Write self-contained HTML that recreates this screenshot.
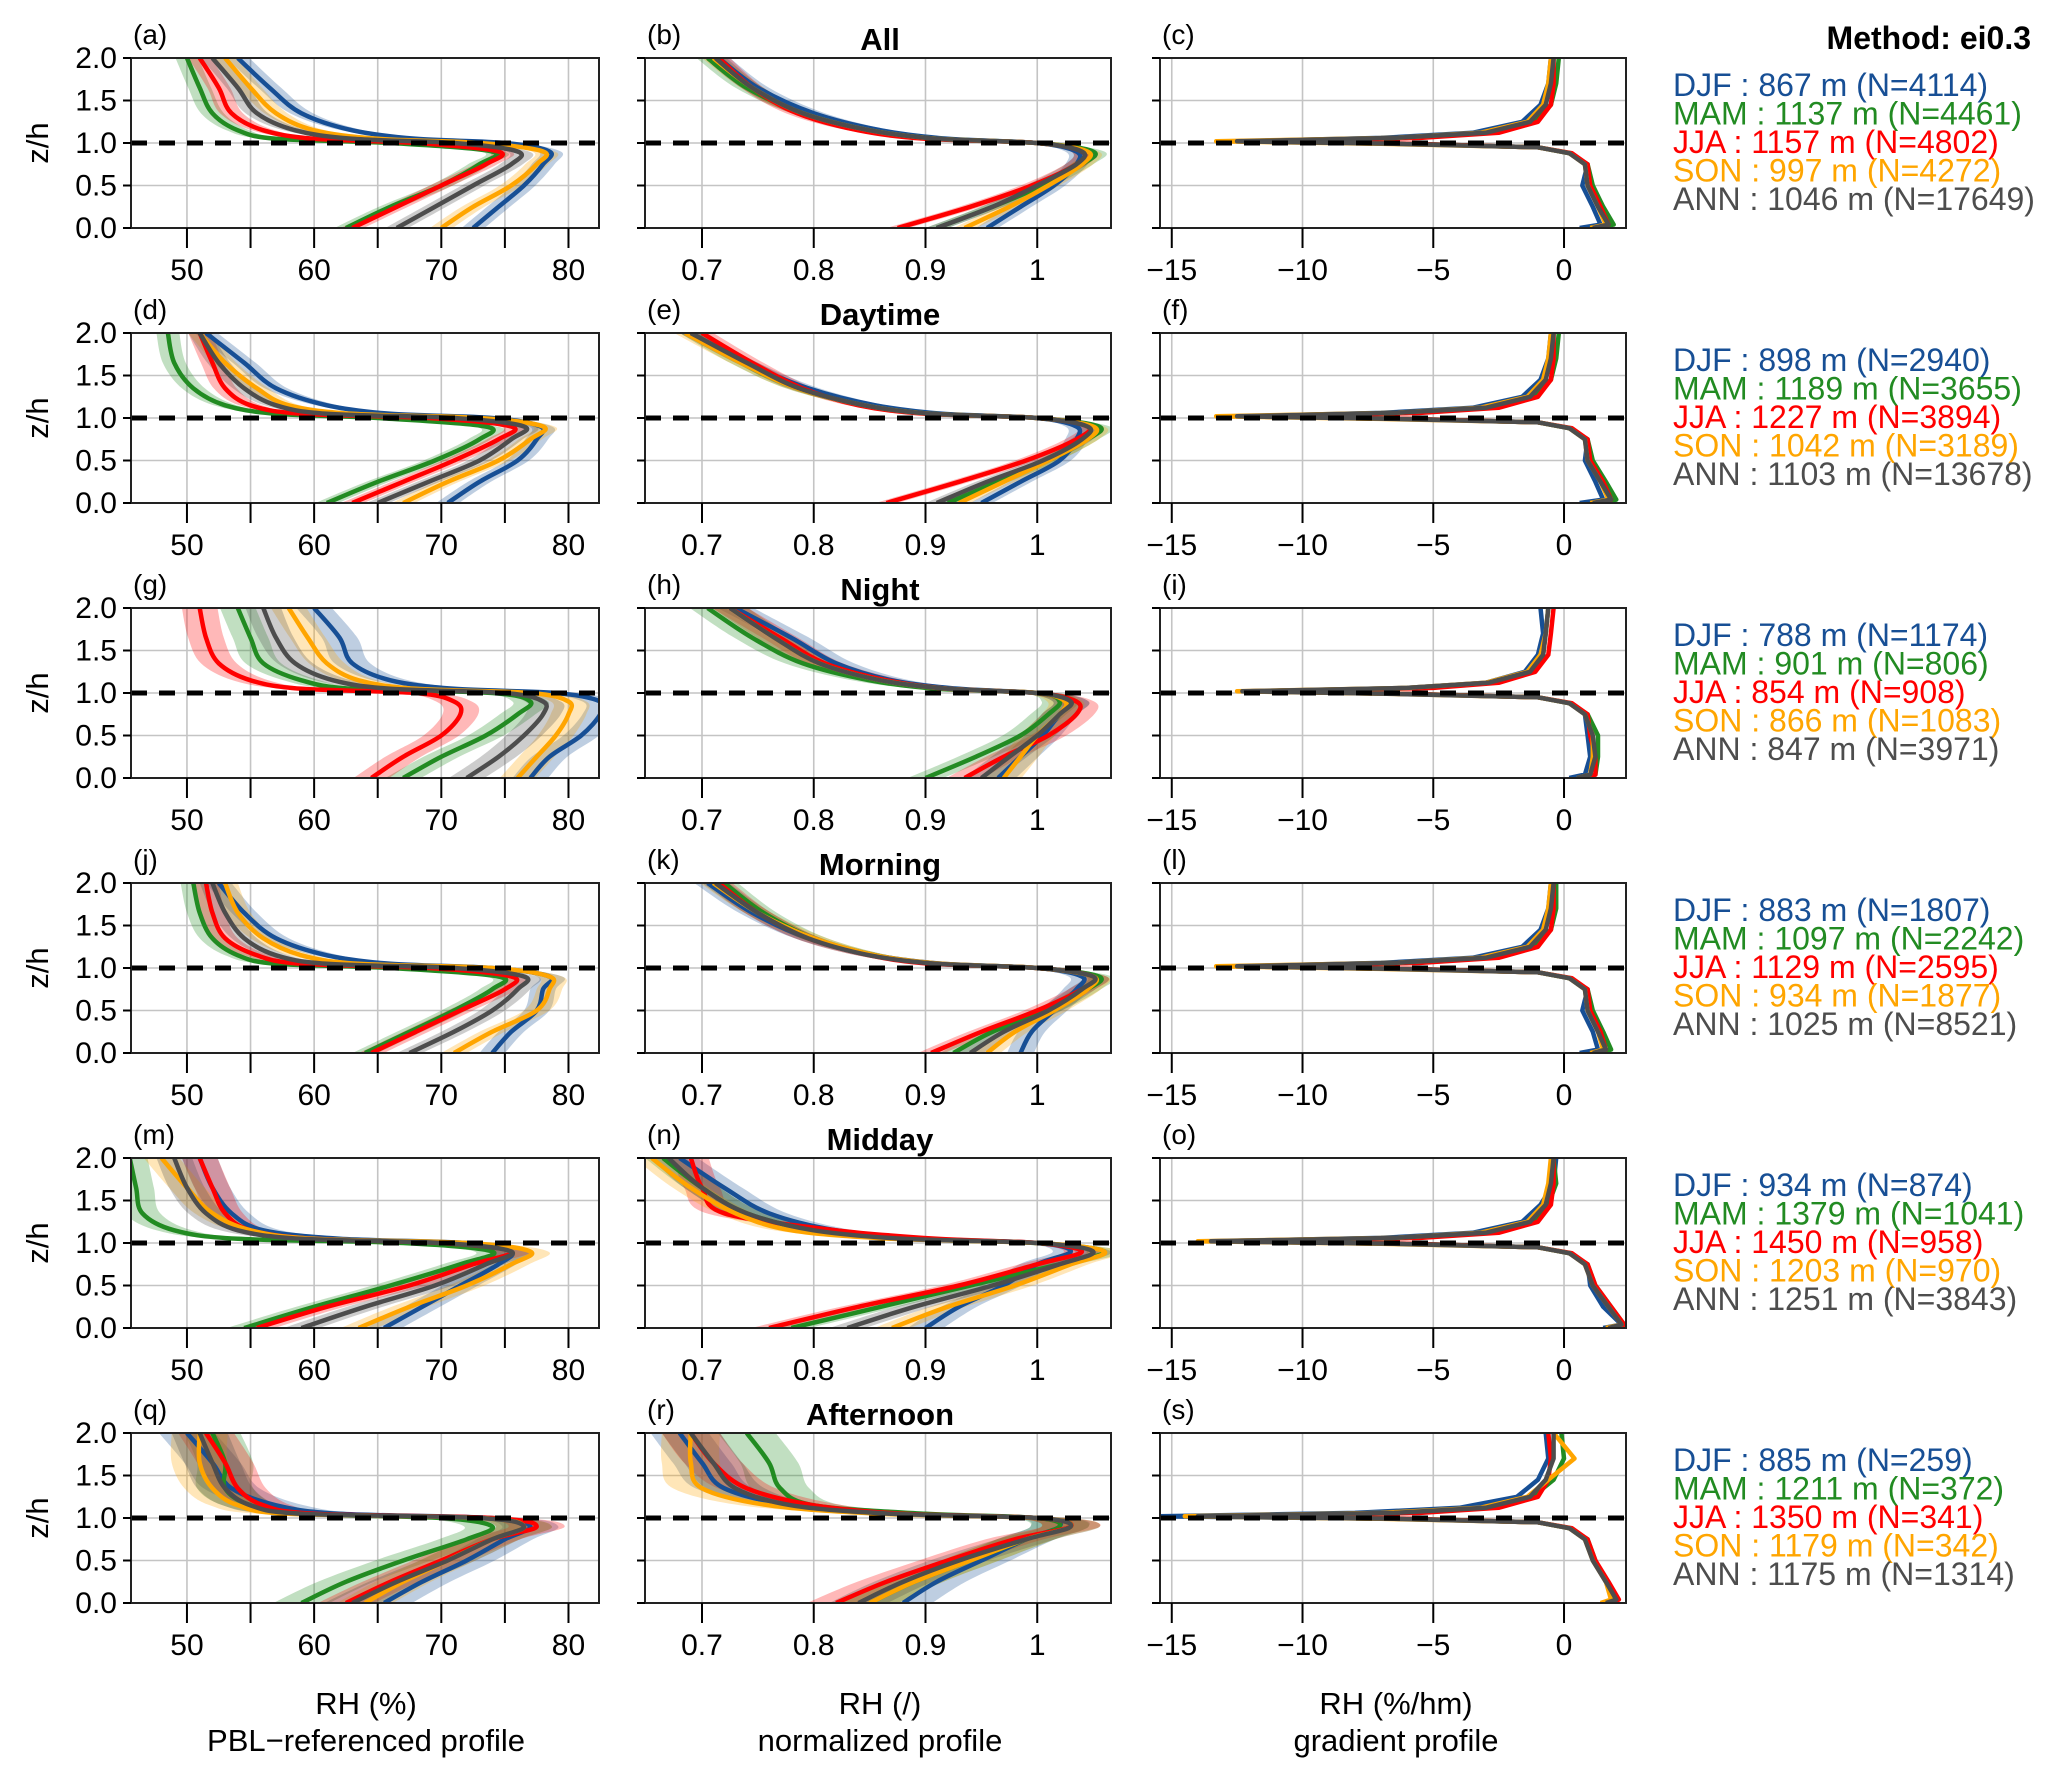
<!DOCTYPE html>
<html><head><meta charset="utf-8">
<style>
html,body{margin:0;padding:0;background:#fff;}
svg{display:block;font-family:"Liberation Sans",Arial,sans-serif;}
</style></head>
<body>
<svg id="fig" width="2067" height="1782" viewBox="0 0 2067 1782" xmlns="http://www.w3.org/2000/svg">
<text x="2031" y="49" text-anchor="end" font-size="32" font-weight="bold">Method: ei0.3</text>
<g font-size="31" text-anchor="middle">
<text x="366" y="1714">RH (%)</text><text x="366" y="1751">PBL−referenced profile</text></g>
<g font-size="31" text-anchor="middle">
<text x="880" y="1714">RH (/)</text><text x="880" y="1751">normalized profile</text></g>
<g font-size="31" text-anchor="middle">
<text x="1396" y="1714">RH (%/hm)</text><text x="1396" y="1751">gradient profile</text></g>
</svg>
<script>
const seasons = ["DJF","MAM","JJA","SON","ANN"];
const colors = ["#174f95","#228b22","#ff0000","#ffa500","#4d4d4d"];
const rowTitles = ["All","Daytime","Night","Morning","Midday","Afternoon"];
const panelLetters = [["a","b","c"],["d","e","f"],["g","h","i"],["j","k","l"],["m","n","o"],["q","r","s"]];
const pblHeights = [[867,1137,1157,997,1046],[898,1189,1227,1042,1103],[788,901,854,866,847],[883,1097,1129,934,1025],[934,1379,1450,1203,1251],[885,1211,1350,1179,1175]];
const sampleN = [[4114,4461,4802,4272,17649],[2940,3655,3894,3189,13678],[1174,806,908,1083,3971],[1807,2242,2595,1877,8521],[874,1041,958,970,3843],[259,372,341,342,1314]];
const zLevels = [0,0.25,0.5,0.75,0.9,1.0,1.05,1.15,1.35,1.65,2.0];
const zLevelsGrad = [0,0.04,0.25,0.5,0.75,0.88,0.95,0.99,1.02,1.06,1.12,1.25,1.45,1.7,2.0];
const yTicks = [0,0.5,1.0,1.5,2.0];
const xTicksA = [50,60,70,80];
const xGridA = [45,50,55,60,65,70,75,80];
const xTicksB = [0.7,0.8,0.9,1.0];
const xTickLabelsB = ["0.7","0.8","0.9","1"];
const xTicksC = [-15,-10,-5,0];
const xTickLabelsC = ["−15","−10","−5","0"];
const spreadA = [0.9,0.9,1.4,1.0,1.4,2.2];
const spreadB = [0.01,0.01,0.016,0.012,0.016,0.026];

// Panel A: PBL-referenced RH (%) — rows × seasons
const rhA = [
 [[72.5,74.5,76.5,78,78.5,75,68,63,59,56.5,54],[62.5,66,70,73,74,66,57,54,52,51,50],[63,66.5,70,73.5,74.5,68,60,56,53.5,52.5,51],[70,72.5,75.5,77.5,78,73,65,60,57,55,53],[66.5,69.5,72.5,75.5,76,71,63,58.5,55.5,54,52]],
 [[70.5,73,76,77.5,77.8,74,66,61,57,54.5,51.5],[61,65,69.5,73,73.5,65,57,53,50.5,49,48.5],[63,67,71,74.5,75.5,69,59,55,53,52,51],[67,70.5,74.5,77,78,73,63,58,55.5,53,51],[65,69,73,75.5,76.5,71,61,57,54.5,52.5,51]],
 [[77,78.5,81,82.5,82.5,79,71,66,63,62,60],[67,70,73.5,76,77,74,63,59,56,55,54],[64.5,67,70,71.5,71,68,59,55,52.5,51.5,51],[76,77.5,79,80,80,77,68,63.5,61,59.5,58],[72,74.5,76.5,78,78,75,66,61.5,58.5,57,56]],
 [[74,75.5,77.5,78,78.5,74,66,61,57,54.5,52.5],[64,67.5,71,74,74.5,66,57,54,52,51,50.5],[64.5,68,71.5,75,75.5,69,59,55.5,53,52,51.5],[71,74,77.5,78.5,78.5,74,63.5,59,56,54,53],[67.5,71,74,76,76.5,71,61,57,54.5,53,52]],
 [[65.5,68.5,71.5,74.5,75.5,72,62,56,53.5,52,51],[54.5,60,66,71.5,74,67,54,49,46.5,46,45.5],[55.5,61,67.5,72.5,75.5,70,60,55,53,52,51],[63.5,67.5,72,75.5,77,72,60,55,52,50,48],[59,64,69.5,73.5,75.5,70,59,54,51.5,50,49]],
 [[65.5,68.5,72,75,77,74,62,57,53.5,52,50],[59,62.5,67,72,74,70,59,55,53,53,52],[62.5,66,70,74,77.5,74,60,56,54,53,51.5],[64,67,70.5,74,76.5,73,58,54,52,51,51],[63,66.5,70.5,74,76.5,73,59,55,53,52,51]]
];
// Panel B: normalized RH
const rhB = [
 [[.955,.985,1.015,1.035,1.035,1.0,.92,.86,.8,.75,.715],[.91,.96,1.005,1.04,1.05,1.0,.91,.85,.79,.74,.705],[.875,.94,.995,1.035,1.04,1.0,.9,.84,.785,.745,.715],[.935,.975,1.01,1.04,1.045,1.0,.91,.85,.79,.745,.71],[.91,.96,1.0,1.035,1.04,1.0,.91,.85,.79,.745,.712]],
 [[.95,.985,1.02,1.035,1.035,1.0,.915,.855,.795,.74,.69],[.92,.965,1.01,1.045,1.055,1.0,.905,.845,.785,.735,.69],[.865,.93,.99,1.035,1.045,1.0,.9,.84,.79,.745,.70],[.93,.97,1.01,1.045,1.05,1.0,.905,.845,.785,.735,.685],[.91,.955,1.005,1.04,1.045,1.0,.905,.845,.787,.74,.69]],
 [[.965,.985,1.005,1.02,1.03,1.0,.93,.87,.82,.78,.73],[.9,.945,.985,1.01,1.02,1.0,.91,.85,.79,.745,.705],[.935,.97,1.01,1.035,1.035,1.0,.92,.865,.81,.77,.725],[.97,.985,1.0,1.02,1.025,1.0,.92,.86,.805,.765,.725],[.95,.975,1.0,1.02,1.03,1.0,.92,.86,.805,.765,.725]],
 [[.985,.995,1.015,1.035,1.04,1.0,.915,.855,.795,.745,.705],[.925,.96,1.01,1.045,1.055,1.0,.91,.855,.8,.755,.72],[.905,.95,1.0,1.04,1.05,1.0,.905,.85,.795,.75,.715],[.955,.98,1.015,1.045,1.05,1.0,.915,.855,.8,.75,.71],[.94,.97,1.01,1.04,1.05,1.0,.91,.85,.795,.75,.712]],
 [[.9,.93,.97,1.0,1.03,1.0,.9,.82,.76,.72,.68],[.78,.86,.94,1.02,1.06,1.0,.88,.8,.74,.7,.665],[.76,.84,.93,1.0,1.04,1.0,.91,.82,.72,.7,.69],[.87,.92,.98,1.03,1.06,1.0,.87,.78,.73,.69,.655],[.83,.89,.96,1.02,1.05,1.0,.88,.8,.74,.7,.67]],
 [[.88,.91,.95,.99,1.02,1.0,.87,.78,.72,.7,.68],[.85,.89,.94,.99,1.02,1.0,.9,.8,.77,.76,.74],[.82,.865,.92,.98,1.03,1.0,.88,.8,.74,.71,.69],[.85,.89,.94,.99,1.03,1.0,.86,.76,.7,.69,.69],[.84,.88,.93,.99,1.03,1.0,.87,.78,.73,.71,.69]]
];
// Panel C: RH gradient (%/hm)
const rhC = [
 [[0.6,1.4,1.1,0.7,0.9,0.2,-1.0,-6,-12.5,-7,-3.5,-1.6,-0.9,-0.6,-0.5],[1.2,1.9,1.5,1.1,0.9,0.2,-1.0,-6,-12.5,-6,-2.8,-1.2,-0.5,-0.3,-0.2],[1.4,1.7,1.4,1.0,0.9,0.3,-1.0,-6,-12.5,-5.5,-2.5,-1.0,-0.5,-0.4,-0.4],[1.0,1.6,1.3,0.9,0.8,0.2,-1.0,-7,-13.3,-6.5,-3.2,-1.4,-0.8,-0.6,-0.5],[1.1,1.7,1.3,0.9,0.8,0.2,-1.0,-6.5,-12.5,-6.5,-3,-1.3,-0.7,-0.5,-0.4]],
 [[0.6,1.5,1.2,0.8,0.9,0.2,-1.0,-6,-12.5,-7,-3.5,-1.6,-0.9,-0.6,-0.5],[1.2,2.0,1.6,1.1,0.9,0.2,-1.0,-6,-12.5,-6,-2.8,-1.2,-0.5,-0.3,-0.2],[1.4,1.8,1.5,1.0,0.9,0.3,-1.0,-6,-12.5,-5.5,-2.5,-1.0,-0.5,-0.4,-0.4],[1.0,1.7,1.4,0.9,0.8,0.2,-1.0,-7,-13.3,-6.5,-3.2,-1.4,-0.8,-0.6,-0.5],[1.1,1.8,1.4,0.9,0.8,0.2,-1.0,-6.5,-12.5,-6.5,-3,-1.3,-0.7,-0.5,-0.4]],
 [[0.2,0.8,1.0,0.9,0.8,0.2,-1.0,-6,-12,-6,-3,-1.5,-1.0,-0.8,-0.9],[0.6,1.2,1.3,1.3,0.9,0.2,-1.0,-6,-12,-5.5,-2.8,-1.3,-0.8,-0.7,-0.6],[0.8,1.2,1.2,1.0,0.9,0.3,-1.0,-6,-12,-5,-2.5,-1.1,-0.6,-0.5,-0.4],[0.5,1.0,1.1,1.1,0.8,0.2,-1.0,-6.5,-12.5,-6,-3,-1.4,-0.9,-0.7,-0.6],[0.5,1.0,1.2,1.1,0.8,0.2,-1.0,-6.5,-12.3,-6,-2.9,-1.3,-0.8,-0.7,-0.6]],
 [[0.6,1.3,1.1,0.7,0.9,0.2,-1.0,-6,-12.5,-7,-3.5,-1.6,-0.9,-0.6,-0.5],[1.2,1.8,1.5,1.1,0.9,0.2,-1.0,-6,-12.5,-6,-2.8,-1.2,-0.5,-0.3,-0.3],[1.4,1.6,1.4,1.0,0.9,0.3,-1.0,-6,-12.5,-5.5,-2.5,-1.0,-0.5,-0.4,-0.4],[1.0,1.5,1.3,0.9,0.8,0.2,-1.0,-7,-13.3,-6.5,-3.2,-1.4,-0.8,-0.6,-0.5],[1.1,1.6,1.3,0.9,0.8,0.2,-1.0,-6.5,-12.5,-6.5,-3,-1.3,-0.7,-0.5,-0.4]],
 [[1.5,2.2,1.5,1.0,0.9,0.2,-1.0,-6,-13.5,-7,-3.5,-1.6,-0.9,-0.4,-0.3],[1.9,2.3,1.8,1.2,0.9,0.2,-1.0,-6,-13,-6,-2.8,-1.2,-0.6,-0.3,-0.4],[2.0,2.3,1.8,1.2,0.9,0.3,-1.0,-6,-13,-5.5,-2.5,-1.0,-0.5,-0.4,-0.4],[1.6,2.2,1.7,1.1,0.8,0.2,-1.0,-7,-14,-6.5,-3.2,-1.4,-0.8,-0.6,-0.5],[1.7,2.2,1.7,1.1,0.8,0.2,-1.0,-6.5,-13.5,-6.5,-3,-1.3,-0.7,-0.5,-0.4]],
 [[1.5,2.0,1.6,1.1,0.9,0.2,-1.0,-6.5,-15.5,-8,-4,-1.8,-1.0,-0.6,-0.7],[1.8,2.0,1.6,1.2,0.9,0.2,-1.0,-6,-13,-6,-2.8,-1.2,-0.4,0.0,-0.1],[1.8,2.1,1.7,1.2,0.9,0.3,-1.0,-6,-13,-5.5,-2.5,-1.0,-0.6,-0.5,-0.6],[1.4,1.8,1.6,1.1,0.8,0.2,-1.0,-7,-14.5,-7,-3.2,-1.4,-0.6,0.4,-0.4],[1.6,2.0,1.6,1.1,0.8,0.2,-1.0,-6.5,-14,-6.5,-3,-1.3,-0.7,-0.4,-0.4]]
];

const NS = "http://www.w3.org/2000/svg";
const svg = document.getElementById("fig");
const colL = [131,645,1160], colR = [599,1111,1626];
const xlims = [[45.6,82.4],[0.649,1.066],[-15.45,2.37]];
const rowTop0 = 58, rowStep = 275.0, plotH = 170;

function mk(tag, attrs, parent){
  const e = document.createElementNS(NS, tag);
  for (const k in attrs) e.setAttribute(k, attrs[k]);
  (parent||svg).appendChild(e);
  return e;
}
function xScale(c, v){ const [a,b]=xlims[c]; return colL[c] + (v-a)/(b-a)*(colR[c]-colL[c]); }
function yScale(r, z){ const t = rowTop0 + r*rowStep; return t + plotH - z/2*plotH; }
function smoothPath(pts){
  let d = "M"+pts[0][0].toFixed(1)+","+pts[0][1].toFixed(1);
  for (let i=0;i<pts.length-1;i++){
    const p0=pts[Math.max(0,i-1)], p1=pts[i], p2=pts[i+1], p3=pts[Math.min(pts.length-1,i+2)];
    const c1=[p1[0]+(p2[0]-p0[0])/6, p1[1]+(p2[1]-p0[1])/6];
    const c2=[p2[0]-(p3[0]-p1[0])/6, p2[1]-(p3[1]-p1[1])/6];
    d += "C"+c1[0].toFixed(1)+","+c1[1].toFixed(1)+" "+c2[0].toFixed(1)+","+c2[1].toFixed(1)+" "+p2[0].toFixed(1)+","+p2[1].toFixed(1);
  }
  return d;
}

for (let r=0;r<6;r++){
  const top = rowTop0 + r*rowStep, bot = top+plotH;
  const yl = mk("text",{x:48,y:top+plotH/2,"font-size":31,"text-anchor":"middle",transform:"rotate(-90 48 "+(top+plotH/2)+")"});
  
  
  yl.textContent = "z/h";
  for (let c=0;c<3;c++){
    const g = mk("g",{});
    
    
    const defsId = "clip"+r+c;
    const cp = mk("clipPath",{id:defsId},g);
    mk("rect",{x:colL[c],y:top,width:colR[c]-colL[c],height:plotH},cp);
    const gridX = c===0 ? xGridA : (c===1 ? xTicksB : xTicksC);
    gridX.forEach(v=>{ const x=xScale(c,v); if(x>colL[c]&&x<colR[c]) mk("line",{x1:x,x2:x,y1:top,y2:bot,stroke:"#c4c4c4","stroke-width":1.6},g); });
    [0.5,1.0,1.5].forEach(z=>mk("line",{x1:colL[c],x2:colR[c],y1:yScale(r,z),y2:yScale(r,z),stroke:"#c4c4c4","stroke-width":1.6},g));
    const plot = mk("g",{"clip-path":"url(#"+defsId+")"},g);
    for (let s=0;s<5;s++){
      if (c<2){
        const vals = c===0 ? rhA[r][s] : rhB[r][s];
        const sp = c===0 ? spreadA[r] : spreadB[r];
        const left = zLevels.map((z,i)=>[xScale(c,vals[i]-sp), yScale(r,z)]);
        const right = zLevels.map((z,i)=>[xScale(c,vals[i]+sp), yScale(r,z)]).reverse();
        const band = mk("path",{d:smoothPath(left)+" L"+smoothPath(right).slice(1)+"Z",fill:colors[s],"fill-opacity":0.28,stroke:"none"},plot);
        
        
      }
    }
    for (let s=0;s<5;s++){
      let path;
      if (c<2){
        const vals = c===0 ? rhA[r][s] : rhB[r][s];
        path = smoothPath(zLevels.map((z,i)=>[xScale(c,vals[i]), yScale(r,z)]));
      } else {
        const vals = rhC[r][s];
        path = "M"+zLevelsGrad.map((z,i)=>xScale(c,vals[i]).toFixed(1)+","+yScale(r,z).toFixed(1)).join("L");
      }
      const ln = mk("path",{d:path,fill:"none",stroke:colors[s],"stroke-width":4.5,"stroke-linejoin":"round"},plot);
      
      
    }
    const dash = mk("line",{x1:colL[c],x2:colR[c],y1:yScale(r,1),y2:yScale(r,1),stroke:"#000","stroke-width":5,"stroke-dasharray":"16 12"},g);
    
    
    const frame = mk("rect",{x:colL[c],y:top,width:colR[c]-colL[c],height:plotH,fill:"none",stroke:"#222","stroke-width":2},g);
    
    
    const tks = c===0 ? xGridA.filter(v=>v>=50) : (c===1 ? xTicksB : xTicksC);
    tks.forEach(v=>mk("line",{x1:xScale(c,v),x2:xScale(c,v),y1:bot,y2:bot+20,stroke:"#000","stroke-width":2},g));
    const labs = c===0 ? xTicksA.map(String) : (c===1 ? xTickLabelsB : xTickLabelsC);
    const lv = c===0 ? xTicksA : (c===1 ? xTicksB : xTicksC);
    lv.forEach((v,i)=>{
      const t = mk("text",{x:xScale(c,v),y:bot+52,"font-size":30,"text-anchor":"middle"},g);
      
      
      t.textContent = labs[i];
    });
    yTicks.forEach(z=>mk("line",{x1:colL[c]-8,x2:colL[c],y1:yScale(r,z),y2:yScale(r,z),stroke:"#000","stroke-width":2},g));
    if (c===0){
      yTicks.forEach(z=>{
        const t = mk("text",{x:colL[c]-14,y:yScale(r,z)+10,"font-size":30,"text-anchor":"end"},g);
        
        
        t.textContent = z.toFixed(1);
      });
    }
    const pl = mk("text",{x:colL[c]+2,y:top-14,"font-size":28},g);
    
    
    pl.textContent = "("+panelLetters[r][c]+")";
    if (c===1){
      const tt = mk("text",{x:880,y:top-8,"font-size":31,"font-weight":"bold","text-anchor":"middle"},g);
      
      
      tt.textContent = rowTitles[r];
    }
  }
  const lg = mk("g",{"font-size":32});
  
  
  for (let s=0;s<5;s++){
    const t = mk("text",{x:1673,y:top+38+s*28.5,fill:colors[s]},lg);
    
    
    t.textContent = seasons[s]+" : "+pblHeights[r][s]+" m (N="+sampleN[r][s]+")";
  }
}
</script>
</body></html>
